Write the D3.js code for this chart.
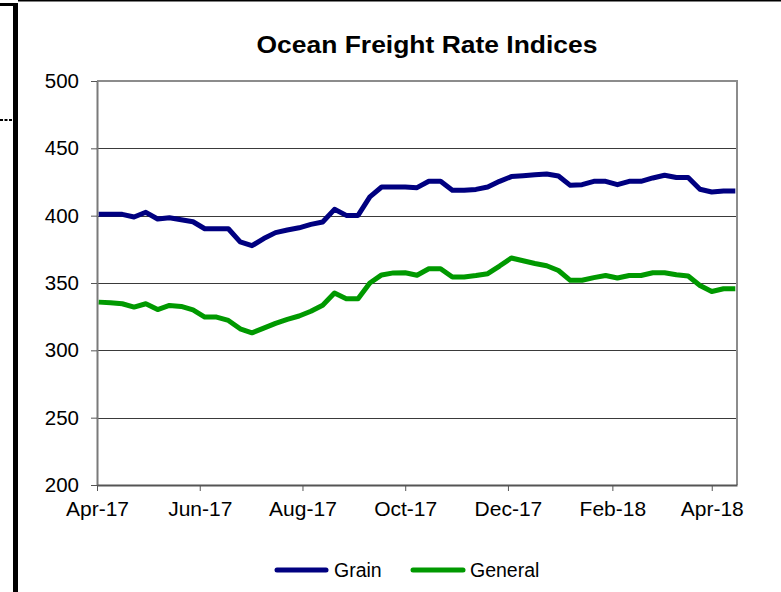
<!DOCTYPE html>
<html>
<head>
<meta charset="utf-8">
<script src="https://cdn.jsdelivr.net/npm/d3@7"></script>
<style>
  html, body { margin: 0; padding: 0; background: #fff; }
  svg { display: block; font-family: "Liberation Sans", Arial, sans-serif; }
</style>
</head>
<body>
<div id="chart"></div>
<script>
// --- Data (weekly index values) ---
const weeks = [
  "2017-04-02", "2017-04-09", "2017-04-16", "2017-04-23", "2017-04-30",
  "2017-05-07", "2017-05-14", "2017-05-21", "2017-05-28",
  "2017-06-04", "2017-06-11", "2017-06-18", "2017-06-25",
  "2017-07-02", "2017-07-09", "2017-07-16", "2017-07-23", "2017-07-30",
  "2017-08-06", "2017-08-13", "2017-08-20", "2017-08-27",
  "2017-09-03", "2017-09-10", "2017-09-17", "2017-09-24",
  "2017-10-01", "2017-10-08", "2017-10-15", "2017-10-22", "2017-10-29",
  "2017-11-05", "2017-11-12", "2017-11-19", "2017-11-26",
  "2017-12-03", "2017-12-10", "2017-12-17", "2017-12-24", "2017-12-31",
  "2018-01-07", "2018-01-14", "2018-01-21", "2018-01-28",
  "2018-02-04", "2018-02-11", "2018-02-18", "2018-02-25",
  "2018-03-04", "2018-03-11", "2018-03-18", "2018-03-25",
  "2018-04-01", "2018-04-08", "2018-04-15"
];
const grain = [
  401, 401, 401, 399, 402.5, 397.5, 398.5, 397, 395.5, 390.3,
  390.3, 390.3, 380.5, 377.7, 383, 387.4, 389.4, 391, 393.5, 395.3,
  404.7, 400.2, 400.2, 414, 421.3, 421.3, 421.3, 420.8, 425.5, 425.5,
  418.8, 418.8, 419.5, 421.3, 425.5, 429, 429.7, 430.4, 431, 429.5,
  422.5, 423, 425.5, 425.5, 423, 425.5, 425.5, 428, 430, 428.3,
  428.3, 419.6, 417.6, 418.4, 418.4
];
const general = [
  335.8, 335.3, 334.6, 332.1, 334.6, 330.3, 333.3, 332.6, 330, 324.7,
  324.7, 322.2, 316, 313, 316.5, 320, 323, 325.5, 329, 333.5,
  342.5, 338.3, 338.3, 350, 356, 357.5, 357.6, 355.8, 360.6, 360.6,
  354.4, 354.4, 355.5, 356.9, 362.6, 368.6, 366.5, 364.5, 362.8, 359.3,
  352, 352, 354, 355.6, 353.7, 355.6, 355.6, 357.6, 357.6, 356.1,
  355.2, 348.2, 343.7, 345.7, 345.7
];
const yTicks = [200, 250, 300, 350, 400, 450, 500];
const xTickMonths = ["2017-04-01", "2017-06-01", "2017-08-01", "2017-10-01",
                     "2017-12-01", "2018-02-01", "2018-04-01"];
const xDomain = ["2017-04-01", "2018-04-16"];
const seriesNames = ["Grain", "General"];
const seriesColors = ["#000080", "#009900"];

const W = 781, H = 592;
const plot = { left: 97, right: 737, top: 81, bottom: 485 };
const parse = d3.timeParse("%Y-%m-%d");

const svg = d3.select("#chart").append("svg")
  .attr("width", W).attr("height", H);

// page frame bits around the chart
svg.append("rect").attr("x", 13).attr("y", 3).attr("width", 5).attr("height", H - 3).attr("fill", "#000");
svg.append("rect").attr("x", 0).attr("y", 3).attr("width", 15).attr("height", 3).attr("fill", "#000");
svg.append("rect").attr("x", 18).attr("y", 0).attr("width", W - 18).attr("height", 1.5).attr("fill", "#000");
svg.append("line").attr("x1", 0).attr("x2", 13).attr("y1", 120).attr("y2", 120)
  .attr("stroke", "#000").attr("stroke-width", 2).attr("stroke-dasharray", "3,1.5");

const x = d3.scaleTime()
  .domain(xDomain.map(parse))
  .range([plot.left, plot.right]);
const y = d3.scaleLinear()
  .domain([200, 500])
  .range([plot.bottom, plot.top]);

// title
svg.append("text")
  .attr("x", 427).attr("y", 53)
  .attr("text-anchor", "middle")
  .attr("font-size", 23.5).attr("font-weight", "bold")
  .attr("textLength", 341).attr("lengthAdjust", "spacingAndGlyphs")
  .text("Ocean Freight Rate Indices");

// gridlines
svg.append("g")
  .selectAll("line")
  .data(yTicks.slice(1, -1))
  .join("line")
  .attr("x1", plot.left).attr("x2", plot.right)
  .attr("y1", d => Math.round(y(d)) + 0.5).attr("y2", d => Math.round(y(d)) + 0.5)
  .attr("stroke", "#3a3a3a").attr("stroke-width", 1);

// plot border (top and right)
svg.append("path")
  .attr("d", `M${plot.left},${plot.top}H${plot.right}V${plot.bottom}`)
  .attr("fill", "none").attr("stroke", "#8c8c8c").attr("stroke-width", 2);

// y axis
const yAxis = svg.append("g")
  .attr("transform", `translate(${plot.left},0)`)
  .call(d3.axisLeft(y).tickValues(yTicks).tickSize(6).tickPadding(12).tickSizeOuter(0));
yAxis.select(".domain").attr("stroke", "#7a7a7a").attr("stroke-width", 2);
yAxis.selectAll(".tick line").attr("stroke", "#555");
yAxis.selectAll("text")
  .attr("font-size", 20.5).attr("fill", "#000")
  .attr("font-family", "Liberation Sans, Arial, sans-serif");

// x axis
const xAxis = svg.append("g")
  .attr("transform", `translate(0,${plot.bottom})`)
  .call(d3.axisBottom(x)
    .tickValues(xTickMonths.map(parse))
    .tickFormat(d3.timeFormat("%b-%y"))
    .tickSize(6).tickPadding(10).tickSizeOuter(0));
xAxis.select(".domain").attr("stroke", "#555").attr("stroke-width", 2);
xAxis.selectAll(".tick line").attr("stroke", "#555");
xAxis.selectAll("text")
  .attr("font-size", 21).attr("fill", "#000")
  .attr("font-family", "Liberation Sans, Arial, sans-serif");

// series lines
const line = d3.line()
  .x((d, i) => x(parse(weeks[i])))
  .y(d => y(d));

[grain, general].forEach((values, k) => {
  svg.append("path")
    .datum(values)
    .attr("d", line)
    .attr("fill", "none")
    .attr("stroke", seriesColors[k])
    .attr("stroke-width", 5)
    .attr("stroke-linejoin", "round");
});

// legend
const legendItems = [
  { x1: 277, x2: 326, tx: 334 },
  { x1: 413, x2: 463, tx: 470 }
];
const legendY = 570;
legendItems.forEach((it, k) => {
  svg.append("line")
    .attr("x1", it.x1).attr("x2", it.x2)
    .attr("y1", legendY).attr("y2", legendY)
    .attr("stroke", seriesColors[k]).attr("stroke-width", 5)
    .attr("stroke-linecap", "round");
  svg.append("text")
    .attr("x", it.tx).attr("y", legendY)
    .attr("dy", "0.36em")
    .attr("font-size", 19.5)
    .text(seriesNames[k]);
});
</script>
</body>
</html>
